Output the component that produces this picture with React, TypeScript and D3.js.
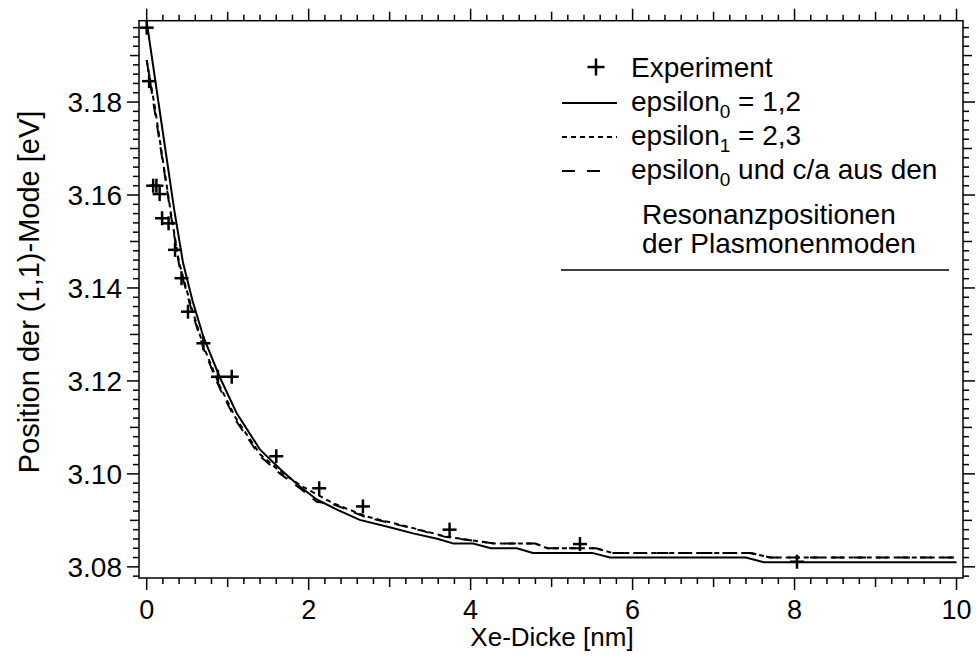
import React from "react";
import * as d3 from "d3";

// Experiment data
const expX = [0, 0.03, 0.08, 0.12, 0.16, 0.19, 0.27, 0.35, 0.43, 0.51, 0.70, 0.88, 1.05, 1.60, 2.13, 2.67, 3.74, 5.35, 8.03];
const expY = [3.196, 3.1845, 3.162, 3.162, 3.1602, 3.155, 3.1539, 3.1482, 3.1421, 3.1349, 3.1281, 3.1209, 3.1209, 3.1038, 3.0969, 3.093, 3.088, 3.0849, 3.0811];

// epsilon0 = 1,2 (solid)
const solidX = [0, 0.17, 0.34, 0.45, 0.57, 0.70, 0.90, 1.11, 1.40, 1.65, 1.89, 2.1, 2.35, 2.63, 3.0, 3.29, 3.6, 3.79, 4.03, 4.25, 4.57, 4.77, 5.5, 5.72, 7.4, 7.62, 10];
const solidY = [3.1973, 3.177, 3.1568, 3.1453, 3.137, 3.1295, 3.1209, 3.1131, 3.1052, 3.101, 3.0973, 3.0945, 3.0923, 3.0901, 3.0885, 3.0872, 3.086, 3.085, 3.085, 3.084, 3.084, 3.083, 3.083, 3.082, 3.082, 3.081, 3.081];

// epsilon1 = 2,3 (short dash)
const shortX = [0, 0.1, 0.2, 0.3, 0.4, 0.55, 0.7, 0.9, 1.1, 1.4, 1.65, 1.9, 2.3, 2.72, 3.21, 3.7, 4.1, 4.3, 4.8, 4.95, 5.55, 5.75, 7.45, 7.7, 10];
const shortY = [3.189, 3.179, 3.1674, 3.156, 3.1455, 3.136, 3.1275, 3.119, 3.112, 3.1042, 3.1005, 3.0975, 3.0937, 3.0908, 3.0887, 3.0865, 3.0855, 3.085, 3.085, 3.084, 3.084, 3.083, 3.083, 3.082, 3.082];

// epsilon0 und c/a aus den Resonanzpositionen (long dash)
const longX = [0, 0.1, 0.2, 0.3, 0.4, 0.55, 0.7, 0.9, 1.1, 1.4, 1.65, 1.9, 2.1, 2.3, 2.72, 3.21, 3.7, 4.1, 4.3, 4.8, 4.95, 5.55, 5.75, 7.45, 7.7, 10];
const longY = [3.189, 3.178, 3.167, 3.1555, 3.145, 3.1355, 3.127, 3.1185, 3.1115, 3.1038, 3.1, 3.0968, 3.094, 3.0935, 3.0906, 3.0886, 3.0864, 3.0855, 3.085, 3.085, 3.084, 3.084, 3.083, 3.083, 3.082, 3.082];

const xTickLabels = ["0", "2", "4", "6", "8", "10"];
const yTickLabels = ["3.08", "3.10", "3.12", "3.14", "3.16", "3.18"];

const W = 976;
const H = 663;
const left = 139, right = 963, top = 20.7, bottom = 578;
const FONT = "'Liberation Sans', Arial, Helvetica, sans-serif";

export default function App() {
  const x = d3.scaleLinear().domain([-0.095, 10.08]).range([left, right]);
  const y = d3.scaleLinear().domain([3.0776, 3.1975]).range([bottom, top]);

  const mk = (xs: number[], ys: number[]) =>
    d3.line<number>().x((_, i) => x(xs[i])).y((_, i) => y(ys[i]))(xs.map((_, i) => i)) || "";

  const xTicks = d3.range(0, 51).map((i) => ({ v: i * 0.2, len: i % 10 === 0 ? 12 : i % 5 === 0 ? 9 : 6 }));
  const yTicks = d3.range(1539, 1599).map((i) => ({ v: i * 0.002, len: i % 10 === 0 ? 12 : i % 5 === 0 ? 9 : 6 }));

  const cross = (cx: number, cy: number, s: number, sw: number, key: any) => (
    <g key={key} stroke="#000" strokeWidth={sw}>
      <line x1={cx - s / 2} x2={cx + s / 2} y1={cy} y2={cy} />
      <line x1={cx} x2={cx} y1={cy - s / 2} y2={cy + s / 2} />
    </g>
  );

  const lx0 = 562, lx1 = 617, tx = 631;
  const fs = 28;
  const sfs = 19;

  return (
    <div style={{ position: "absolute", left: 0, top: 0 }}>
      <svg width={W} height={H} style={{ display: "block", background: "#fff" }} fontFamily={FONT}>
        <rect x={0} y={0} width={W} height={H} fill="#fff" />
        {/* data lines */}
        <path d={mk(solidX, solidY)} fill="none" stroke="#000" strokeWidth={2} />
        <path d={mk(shortX, shortY)} fill="none" stroke="#000" strokeWidth={2} strokeDasharray="5,4" />
        <path d={mk(longX, longY)} fill="none" stroke="#000" strokeWidth={2} strokeDasharray="12,10" />
        {expX.map((v, i) => cross(x(v), y(expY[i]), 14, 2.5, i))}

        {/* frame */}
        <rect x={left} y={top} width={right - left} height={bottom - top} fill="none" stroke="#000" strokeWidth={1.5} />
        {xTicks.map((t, i) => (
          <g key={"xt" + i} stroke="#000" strokeWidth={1.5}>
            <line x1={x(t.v)} x2={x(t.v)} y1={bottom} y2={bottom + t.len} />
            <line x1={x(t.v)} x2={x(t.v)} y1={top} y2={top - t.len} />
          </g>
        ))}
        {yTicks.map((t, i) => (
          <g key={"yt" + i} stroke="#000" strokeWidth={1.5}>
            <line x1={left} x2={left - t.len} y1={y(t.v)} y2={y(t.v)} />
            <line x1={right} x2={right + t.len} y1={y(t.v)} y2={y(t.v)} />
          </g>
        ))}
        {xTickLabels.map((l, i) => (
          <text key={"xl" + i} x={x(+l)} y={619} textAnchor="middle" fontSize={27}>{l}</text>
        ))}
        {yTickLabels.map((l, i) => (
          <text key={"yl" + i} x={122} y={y(+l) + 10} textAnchor="end" fontSize={fs}>{l}</text>
        ))}
        <text x={552} y={646} textAnchor="middle" fontSize={26}>Xe-Dicke [nm]</text>
        <text transform={`translate(39,292) rotate(-90)`} textAnchor="middle" fontSize={29}>
          Position der (1,1)-Mode [eV]
        </text>

        {/* legend */}
        {cross(596, 67, 17, 2.5, "lc")}
        <text x={tx} y={77} fontSize={fs}>Experiment</text>
        <line x1={lx0} x2={lx1} y1={103} y2={103} stroke="#000" strokeWidth={2} />
        <text x={tx} y={111} fontSize={fs}>epsilon<tspan fontSize={sfs} dy={7}>0</tspan><tspan dy={-7}> = 1,2</tspan></text>
        <line x1={lx0} x2={lx1} y1={137} y2={137} stroke="#000" strokeWidth={2} strokeDasharray="5,4" />
        <text x={tx} y={145} fontSize={fs}>epsilon<tspan fontSize={sfs} dy={7}>1</tspan><tspan dy={-7}> = 2,3</tspan></text>
        <line x1={lx0} x2={lx0 + 13} y1={171} y2={171} stroke="#000" strokeWidth={2} />
        <line x1={lx0 + 25} x2={lx0 + 38} y1={171} y2={171} stroke="#000" strokeWidth={2} />
        <text x={tx} y={179} fontSize={fs}>epsilon<tspan fontSize={sfs} dy={7}>0</tspan><tspan dy={-7}> und c/a aus den</tspan></text>
        <text x={642} y={224} fontSize={fs}>Resonanzpositionen</text>
        <text x={642} y={253} fontSize={fs}>der Plasmonenmoden</text>
        <line x1={561} x2={949} y1={270} y2={270} stroke="#000" strokeWidth={1.5} />
      </svg>
    </div>
  );
}
